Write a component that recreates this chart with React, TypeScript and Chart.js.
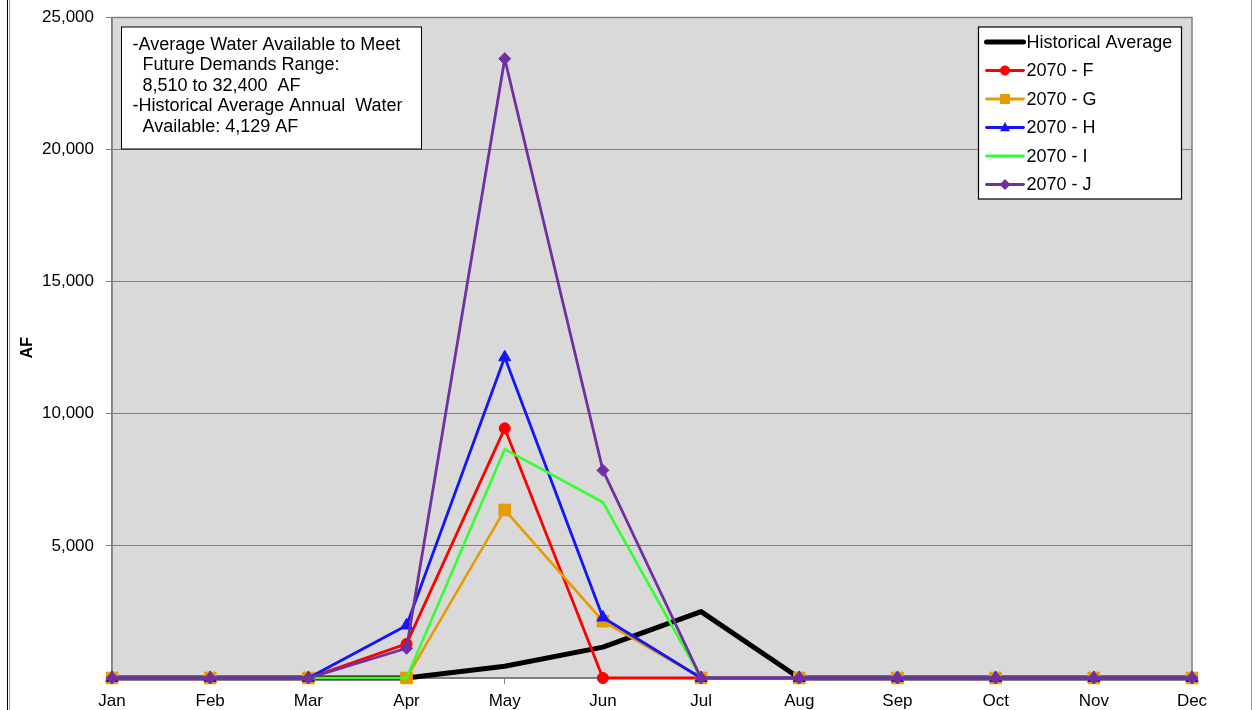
import React, { useEffect, useRef } from "react";
import { Chart, registerables } from "chart.js";

Chart.register(...registerables);

const months = ["Jan", "Feb", "Mar", "Apr", "May", "Jun", "Jul", "Aug", "Sep", "Oct", "Nov", "Dec"];
const historicalAverage = [0, 0, 0, 0, 445, 1170, 2514, 0, 0, 0, 0, 0];
const series2070F = [0, 0, 0, 1290, 9450, 0, 0, 0, 0, 0, 0, 0];
const series2070G = [0, 0, 0, 0, 6360, 2150, 0, 0, 0, 0, 0, 0];
const series2070H = [0, 0, 0, 1990, 12140, 2290, 0, 0, 0, 0, 0, 0];
const series2070I = [0, 0, 0, 0, 8660, 6650, 0, 0, 0, 0, 0, 0];
const series2070J = [0, 0, 0, 1125, 23440, 7860, 0, 0, 0, 0, 0, 0];
const seriesLabels = ["Historical Average", "2070 - F", "2070 - G", "2070 - H", "2070 - I", "2070 - J"];
const noteLines = [
  "-Average Water Available to Meet",
  "  Future Demands Range:",
  "  8,510 to 32,400  AF",
  "-Historical Average Annual  Water",
  "  Available: 4,129 AF",
];
const yMin = 0;
const yMax = 25000;
const yStep = 5000;

const FONT = "'Liberation Sans', Arial, sans-serif";

function drawMarker(ctx: CanvasRenderingContext2D, style: string, x: number, y: number, r: number, color: string) {
  ctx.save();
  ctx.fillStyle = color;
  ctx.beginPath();
  if (style === "circle") {
    ctx.arc(x, y, r, 0, Math.PI * 2);
  } else if (style === "rect") {
    ctx.rect(x - r, y - r, 2 * r, 2 * r);
  } else if (style === "triangle") {
    ctx.moveTo(x, y - r * 1.1);
    ctx.lineTo(x + r, y + r * 0.75);
    ctx.lineTo(x - r, y + r * 0.75);
    ctx.closePath();
  } else if (style === "rectRot") {
    ctx.moveTo(x - r, y);
    ctx.lineTo(x, y - r);
    ctx.lineTo(x + r, y);
    ctx.lineTo(x, y + r);
    ctx.closePath();
  }
  ctx.fill();
  ctx.restore();
}

const framePlugin = {
  id: "frame",
  beforeDraw(chart: any) {
    const { ctx, chartArea, width, height } = chart;
    ctx.save();
    ctx.fillStyle = "#ffffff";
    ctx.fillRect(0, 0, width, height);
    ctx.fillStyle = "#D9D9D9";
    ctx.fillRect(chartArea.left, chartArea.top, chartArea.right - chartArea.left, chartArea.bottom - chartArea.top);
    // outer chart frame
    ctx.strokeStyle = "#000000";
    ctx.lineWidth = 1;
    ctx.beginPath();
    ctx.moveTo(7.5, 0);
    ctx.lineTo(7.5, height);
    ctx.stroke();
    ctx.strokeStyle = "#9a9a9a";
    ctx.beginPath();
    ctx.moveTo(9.5, 0);
    ctx.lineTo(9.5, height);
    ctx.moveTo(width - 3.5, 0);
    ctx.lineTo(width - 3.5, height);
    ctx.stroke();
    ctx.restore();
  },
  beforeDatasetsDraw(chart: any) {
    const { ctx, chartArea } = chart;
    ctx.save();
    ctx.strokeStyle = "#808080";
    ctx.lineWidth = 1.5;
    ctx.strokeRect(chartArea.left, chartArea.top, chartArea.right - chartArea.left, chartArea.bottom - chartArea.top);
    ctx.restore();
  },
  afterDraw(chart: any) {
    const { ctx, chartArea } = chart;
    ctx.save();
    // note box
    const nx = chartArea.left + 9.5;
    const ny = chartArea.top + 9.5;
    ctx.fillStyle = "#ffffff";
    ctx.fillRect(nx, ny, 300, 122);
    ctx.strokeStyle = "#000000";
    ctx.lineWidth = 1;
    ctx.strokeRect(nx, ny, 300, 122);
    ctx.fillStyle = "#000000";
    ctx.font = `18px ${FONT}`;
    ctx.textBaseline = "middle";
    ctx.textAlign = "left";
    noteLines.forEach((line, i) => {
      ctx.fillText(line, nx + 11, ny + 18 + i * 20.5);
    });

    // legend box
    const lw = 203;
    const lx = chartArea.right - 10.5 - lw;
    const ly = chartArea.top + 9.5;
    const lh = 172;
    ctx.fillStyle = "#ffffff";
    ctx.fillRect(lx, ly, lw, lh);
    ctx.strokeStyle = "#000000";
    ctx.lineWidth = 1.2;
    ctx.strokeRect(lx, ly, lw, lh);
    ctx.font = `18px ${FONT}`;
    chart.data.datasets.forEach((ds: any, i: number) => {
      const y = ly + 15 + i * 28.5;
      ctx.strokeStyle = ds.borderColor;
      ctx.lineWidth = i === 0 ? 5 : 2.8;
      ctx.lineCap = "round";
      ctx.beginPath();
      ctx.moveTo(lx + 8, y);
      ctx.lineTo(lx + 45, y);
      ctx.stroke();
      if (ds.pointRadius > 0) {
        drawMarker(ctx, ds.pointStyle, lx + 26.5, y, ds.pointStyle === "rectRot" ? 5.5 : 5, ds.borderColor);
      }
      ctx.fillStyle = "#000000";
      ctx.fillText(ds.label, lx + 48, y + 1);
    });
    ctx.restore();
  },
};

export default function App() {
  const canvasRef = useRef<HTMLCanvasElement | null>(null);

  useEffect(() => {
    const canvas = canvasRef.current;
    if (!canvas) return;
    const mk = (i: number, data: number[], color: string, style: string, radius: number, width: number, order: number) => ({
      label: seriesLabels[i],
      data,
      borderColor: color,
      backgroundColor: color,
      borderWidth: width,
      pointStyle: style,
      pointRadius: radius,
      pointBorderWidth: 1,
      pointBackgroundColor: color,
      pointBorderColor: color,
      tension: 0,
      fill: false,
      clip: false,
      order,
    });
    const chart = new Chart(canvas, {
      type: "line",
      data: {
        labels: months,
        datasets: [
          { ...mk(0, historicalAverage, "#000000", "circle", 0, 5, 6), borderJoinStyle: "round" as const },
          mk(1, series2070F, "#FF0000", "circle", 5.5, 2.8, 5),
          mk(2, series2070G, "#E69B00", "rect", 8.2, 2.5, 4),
          mk(3, series2070H, "#1414FF", "triangle", 7, 2.8, 3),
          mk(4, series2070I, "#33FF33", "circle", 0, 2.6, 2),
          mk(5, series2070J, "#7030A0", "rectRot", 6, 2.8, 1),
        ],
      },
      options: {
        animation: false,
        responsive: false,
        maintainAspectRatio: false,
        layout: { padding: { top: 17.5, right: 63, bottom: 0, left: 0 } },
        plugins: {
          legend: { display: false },
          tooltip: { enabled: false },
          title: { display: false },
        },
        scales: {
          x: {
            type: "category",
            offset: false,
            grid: {
              display: true,
              drawOnChartArea: false,
              drawTicks: true,
              tickLength: 6,
              color: "#808080",
            },
            border: { display: true, color: "#808080", width: 1.5 },
            ticks: {
              color: "#000000",
              font: { family: FONT, size: 17 },
              padding: 7,
              maxRotation: 0,
              autoSkip: false,
            },
            afterFit: (s: any) => {
              s.height = 32;
              s.paddingLeft = 0;
              s.paddingRight = 0;
            },
          },
          y: {
            min: yMin,
            max: yMax,
            grid: {
              color: "#808080",
              lineWidth: 1,
              drawTicks: true,
              tickLength: 6,
            },
            border: { display: true, color: "#808080", width: 1.5 },
            ticks: {
              stepSize: yStep,
              color: "#000000",
              font: { family: FONT, size: 17 },
              padding: 12,
              callback: (v: any) => (Number(v) === 0 ? "" : Number(v).toLocaleString("en-US")),
            },
            title: {
              display: true,
              text: "AF",
              color: "#000000",
              font: { family: FONT, size: 16, weight: "bold" },
              padding: { top: 18, bottom: 0 },
            },
            afterFit: (s: any) => {
              s.width = 112;
              s.paddingTop = 0;
              s.paddingBottom = 0;
            },
          },
        },
      },
      plugins: [framePlugin],
    } as any);
    return () => chart.destroy();
  }, []);

  return (
    <div style={{ position: "fixed", left: 0, top: 0, width: 1255, height: 710, overflow: "hidden", background: "#fff" }}>
      <canvas ref={canvasRef} width={1255} height={710} style={{ display: "block", width: 1255, height: 710 }} />
    </div>
  );
}
